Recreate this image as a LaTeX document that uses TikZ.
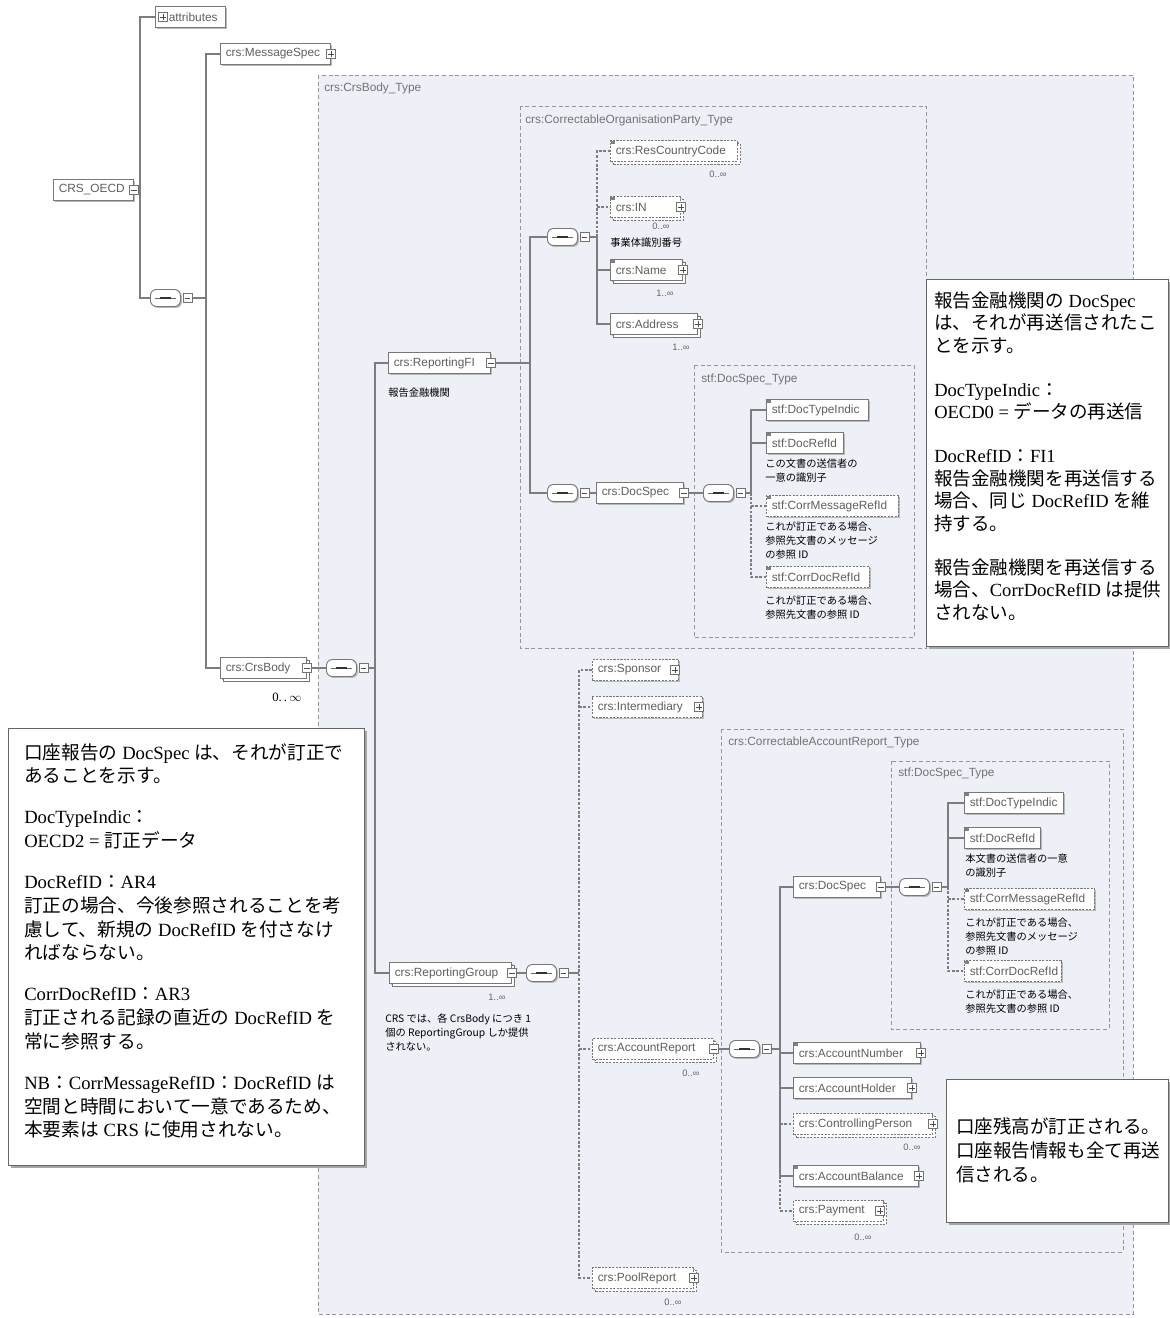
\documentclass[tikz,border=0pt]{standalone}
\usepackage{fontspec}
\setmainfont{Liberation Serif}
\newfontfamily\jp{Noto Sans CJK JP}
\newfontfamily\ui{Liberation Sans}
\usetikzlibrary{shadows}
\pgfdeclarelayer{bg}\pgfdeclarelayer{lines}
\pgfsetlayers{bg,lines,main}
\definecolor{ctfill}{RGB}{238,240,248}
\definecolor{ctline}{RGB}{150,150,158}
\definecolor{cn}{RGB}{125,125,125}
\definecolor{elb}{RGB}{120,120,120}
\definecolor{elt}{RGB}{95,95,95}
\newcommand\J[1]{{\jp #1}}
\tikzset{
 elbase/.style={draw=elb, fill=white, line width=0.7pt, inner xsep=4pt, inner ysep=0pt, align=left,
   minimum height=15.75pt, font=\ui\fontsize{8.9pt}{10pt}\selectfont, text=elt,
   drop shadow={shadow xshift=1.1pt,shadow yshift=-1.1pt,fill=black!28,opacity=1}},
 opt/.style={dash pattern=on 1.6pt off 1pt},
 stk/.style={copy shadow={shadow xshift=2.2pt,shadow yshift=-2.2pt}},
 expd/.style={draw=black!55, fill=white, line width=0.5pt, minimum size=6.75pt, inner sep=0pt},
 expl/.style={draw=black!70, line width=0.55pt},
 seqn/.style={draw=elb, fill=white, rounded corners=4.5pt, minimum width=22.5pt, minimum height=12.75pt,
   inner sep=0pt, line width=0.7pt, drop shadow={shadow xshift=1.1pt,shadow yshift=-1.1pt,fill=black!28,opacity=1}},
 conn/.style={draw=cn, line width=0.9pt},
 cdash/.style={conn, dash pattern=on 2pt off 1.3pt},
 ctr/.style={draw=ctline, fill=ctfill, line width=0.6pt, dash pattern=on 3pt off 2pt},
 ctlab/.style={font=\ui\fontsize{8.9pt}{10pt}\selectfont, text=black!55, anchor=west, inner sep=0pt},
 mult/.style={font=\ui\fontsize{7pt}{8pt}\selectfont, text=black!60, inner sep=0pt},
 note/.style={font=\jp\fontsize{7.7pt}{10.5pt}\selectfont, align=left, inner sep=0pt, anchor=north west},
 callout/.style={draw=black!60, fill=white, line width=0.8pt, inner sep=0pt, anchor=north west,
   drop shadow={shadow xshift=1.5pt,shadow yshift=-1.5pt,fill=black!35,opacity=1}},
 ctext/.style={align=left, inner sep=0pt, anchor=north west}
}
\newcommand\el[6]{\node[elbase,#2,anchor=west,text width={(#4-#3)*0.75pt-8pt}] (#1) at (#3,#5) {\mbox{#6}};}
\newcommand\xpm[3]{\node[expd] (#1) at (#2) {};\draw[expl] ([xshift=-2.1pt]#1.center) -- ([xshift=2.1pt]#1.center);\if p#3\draw[expl] ([yshift=-2.1pt]#1.center) -- ([yshift=2.1pt]#1.center);\fi}
\newcommand\sq[3]{\node[seqn,anchor=west] (#1) at (#2,#3) {};%
 \draw[black!60,line width=0.6pt] ([xshift=-8pt]#1.center) -- ([xshift=8pt]#1.center);%
 \fill[black!80] ([xshift=-4.3pt,yshift=-1pt]#1.center) rectangle ([xshift=4.3pt,yshift=1pt]#1.center);%
 \xpm{#1X}{[xshift=4.9pt]#1.east}{m}}
\newcommand\smk[1]{\fill[black!50] ([xshift=0.6pt,yshift=-0.6pt]#1.north west) rectangle ([xshift=3.6pt,yshift=-3.2pt]#1.north west);}
\begin{document}
\begin{tikzpicture}[x=0.75pt,y=-0.75pt]
\path[use as bounding box] (0,0) rectangle (1170,1318);
\begin{pgfonlayer}{bg}
\fill[white] (0,0) rectangle (1170,1318);
\draw[ctr] (318,75) rectangle (1133,1314);
\draw[ctr] (520,106) rectangle (926,648);
\draw[ctr] (694,365) rectangle (914,637);
\draw[ctr] (721,729) rectangle (1123,1252);
\draw[ctr] (891,761) rectangle (1109,1029);
\end{pgfonlayer}
% container labels
\node[ctlab] (lbBody) at (324,88) {crs:CrsBody\_Type};
\node[ctlab] (lbOrg) at (525,120) {crs:CorrectableOrganisationParty\_Type};
\node[ctlab] (lbDSa) at (701,379) {stf:DocSpec\_Type};
\node[ctlab] (lbAcc) at (728,742) {crs:CorrectableAccountReport\_Type};
\node[ctlab] (lbDSb) at (898,773) {stf:DocSpec\_Type};
% trunk coordinates
\coordinate (T1) at (140,0);
\coordinate (T2) at (206,0);
\coordinate (T3) at (375,0);
\coordinate (T4) at (530,0);
\coordinate (T5) at (597,0);
\coordinate (T6) at (751,0);
\coordinate (T7) at (579,0);
\coordinate (T8) at (780,0);
\coordinate (T9) at (948,0);
% top level
\el{attr}{}{155}{225}{17}{\hspace*{6pt}attributes}
\xpm{attrX}{[xshift=6pt]attr.west}{p}
\el{msg}{}{220}{330}{54}{crs:MessageSpec}
\xpm{msgX}{msg.east}{p}
\el{oecd}{}{53}{133}{190}{CRS\_OECD}
\xpm{oecdX}{oecd.east}{m}
\sq{seqO}{150}{298}
\el{crsbody}{stk}{220}{306}{668}{crs:CrsBody}
\xpm{crsbodyX}{crsbody.east}{m}
\node[inner sep=0pt,font=\fontsize{9.5pt}{11pt}\selectfont] (cbm) at (287,697) {0.\,.\,$\infty$};
\sq{seqI}{326}{668}
% reporting FI
\el{rfi}{}{388}{490}{363}{crs:ReportingFI}
\xpm{rfiX}{rfi.east}{m}
\node[note,anchor=west] (nRfi) at (388,393) {報告金融機関};
\sq{seqA}{547}{237}
\el{rcc}{opt,stk}{610}{737}{151}{crs:ResCountryCode}
\smk{rcc}
\node[mult] (mRcc) at (718,174) {0..∞};
\el{in}{opt,stk}{610}{680}{207}{crs:IN}
\xpm{inX}{in.east}{p}
\smk{in}
\node[mult] (mIn) at (661,226) {0..∞};
\node[note,anchor=west] (nIn) at (610,243) {事業体識別番号};
\el{name}{stk}{610}{682}{270}{crs:Name}
\xpm{nameX}{name.east}{p}
\smk{name}
\node[mult] (mName) at (665,293) {1..∞};
\el{addr}{stk}{610}{697}{324}{crs:Address}
\xpm{addrX}{addr.east}{p}
\node[mult] (mAddr) at (681,347) {1..∞};
\sq{seqB}{547}{493}
\el{docspec}{}{596}{683}{493}{crs:DocSpec}
\xpm{docspecX}{docspec.east}{m}
\sq{seqC}{703}{493}
\el{dti}{}{766}{868}{410}{stf:DocTypeIndic}
\smk{dti}
\el{dri}{}{766}{843}{443}{stf:DocRefId}
\smk{dri}
\node[note] (nDri) at (765,459) {この文書の送信者の\\一意の識別子};
\el{cmri}{opt}{766}{898}{506}{stf:CorrMessageRefId}
\smk{cmri}
\node[note] (nCmri) at (765,522) {これが訂正である場合、\\参照先文書のメッセージ\\の参照 ID};
\el{cdri}{opt}{766}{869}{577}{stf:CorrDocRefId}
\smk{cdri}
\node[note] (nCdri) at (765,596) {これが訂正である場合、\\参照先文書の参照 ID};
% reporting group
\el{rgrp}{stk}{389}{511}{973}{crs:ReportingGroup}
\xpm{rgrpX}{rgrp.east}{m}
\node[mult] (mRgrp) at (497,997) {1..∞};
\node[note] (nRgrp) at (385,1014) {CRS では、各 CrsBody につき 1\\個の ReportingGroup しか提供\\されない。};
\sq{seqD}{526}{973}
\el{spon}{opt}{592}{678}{670}{crs:Sponsor}
\xpm{sponX}{[xshift=-3pt]spon.east}{p}
\el{interm}{opt}{592}{702}{707}{crs:Intermediary}
\xpm{intermX}{[xshift=-3pt]interm.east}{p}
\el{accrep}{opt,stk}{592}{713}{1049}{crs:AccountReport}
\xpm{accrepX}{accrep.east}{m}
\node[mult] (mAccrep) at (691,1073) {0..∞};
\sq{seqE}{729}{1049}
\el{docspecb}{}{793}{880}{887}{crs:DocSpec}
\xpm{docspecbX}{docspecb.east}{m}
\sq{seqF}{899}{887}
\el{dtib}{}{964}{1063}{803}{stf:DocTypeIndic}
\smk{dtib}
\el{drib}{}{964}{1040}{838}{stf:DocRefId}
\smk{drib}
\node[note] (nDrib) at (965,854) {本文書の送信者の一意\\の識別子};
\el{cmrib}{opt}{964}{1094}{899}{stf:CorrMessageRefId}
\smk{cmrib}
\node[note] (nCmrib) at (965,918) {これが訂正である場合、\\参照先文書のメッセージ\\の参照 ID};
\el{cdrib}{opt}{964}{1061}{971}{stf:CorrDocRefId}
\smk{cdrib}
\node[note] (nCdrib) at (965,990) {これが訂正である場合、\\参照先文書の参照 ID};
\el{accnum}{}{793}{920}{1053}{crs:AccountNumber}
\xpm{accnumX}{accnum.east}{p}
\smk{accnum}
\el{acchold}{}{793}{911}{1088}{crs:AccountHolder}
\xpm{accholdX}{acchold.east}{p}
\el{ctrl}{opt,stk}{793}{932}{1124}{crs:ControllingPerson}
\xpm{ctrlX}{ctrl.east}{p}
\node[mult] (mCtrl) at (912,1147) {0..∞};
\el{accbal}{}{793}{918}{1176}{crs:AccountBalance}
\xpm{accbalX}{accbal.east}{p}
\smk{accbal}
\el{pay}{opt,stk}{793}{883}{1211}{crs:Payment}
\xpm{payX}{[xshift=-3pt]pay.east}{p}
\node[mult] (mPay) at (863,1237) {0..∞};
\el{pool}{opt,stk}{592}{693}{1278}{crs:PoolReport}
\xpm{poolX}{pool.east}{p}
\node[mult] (mPool) at (673,1302) {0..∞};
% connectors
\begin{pgfonlayer}{lines}
\draw[conn] (oecdX.east) -- (oecdX.east -| T1);
\draw[conn] (attr.west) -- (attr.west -| T1) -- (seqO.west -| T1) -- (seqO.west);
\draw[conn] (seqOX.east) -- (seqOX.east -| T2);
\draw[conn] (msg.west) -- (msg.west -| T2) -- (crsbody.west -| T2) -- (crsbody.west);
\draw[conn] (crsbodyX.east) -- (seqI.west);
\draw[conn] (seqIX.east) -- (seqIX.east -| T3);
\draw[conn] (rfi.west) -- (rfi.west -| T3) -- (rgrp.west -| T3) -- (rgrp.west);
\draw[conn] (rfiX.east) -- (rfiX.east -| T4);
\draw[conn] (seqA.west) -- (seqA.west -| T4) -- (seqB.west -| T4) -- (seqB.west);
\draw[conn] (seqAX.east) -- (seqAX.east -| T5) -- (addr.west -| T5) -- (addr.west);
\draw[conn] (name.west -| T5) -- (name.west);
\draw[cdash] (seqAX.east -| T5) -- (rcc.west -| T5) -- (rcc.west);
\draw[cdash] (in.west -| T5) -- (in.west);
\draw[conn] (seqBX.east) -- (docspec.west);
\draw[conn] (docspecX.east) -- (seqC.west);
\draw[conn] (seqCX.east) -- (seqCX.east -| T6) -- (dti.west -| T6) -- (dti.west);
\draw[conn] (dri.west -| T6) -- (dri.west);
\draw[cdash] (seqCX.east -| T6) -- (cdri.west -| T6) -- (cdri.west);
\draw[cdash] (cmri.west -| T6) -- (cmri.west);
\draw[conn] (rgrpX.east) -- (seqD.west);
\draw[conn] (seqDX.east) -- (seqDX.east -| T7);
\draw[cdash] (spon.west) -- (spon.west -| T7) -- (pool.west -| T7) -- (pool.west);
\draw[cdash] (interm.west -| T7) -- (interm.west);
\draw[cdash] (accrep.west -| T7) -- (accrep.west);
\draw[conn] (accrepX.east) -- (seqE.west);
\draw[conn] (seqEX.east) -- (seqEX.east -| T8);
\draw[conn] (docspecb.west) -- (docspecb.west -| T8) -- (accbal.west -| T8) -- (accbal.west);
\draw[conn] (accnum.west -| T8) -- (accnum.west);
\draw[conn] (acchold.west -| T8) -- (acchold.west);
\draw[cdash] (ctrl.west -| T8) -- (ctrl.west);
\draw[cdash] (accbal.west -| T8) -- (pay.west -| T8) -- (pay.west);
\draw[conn] (docspecbX.east) -- (seqF.west);
\draw[conn] (seqFX.east) -- (seqFX.east -| T9) -- (dtib.west -| T9) -- (dtib.west);
\draw[conn] (drib.west -| T9) -- (drib.west);
\draw[cdash] (seqFX.east -| T9) -- (cdrib.west -| T9) -- (cdrib.west);
\draw[cdash] (cmrib.west -| T9) -- (cmrib.west);
\end{pgfonlayer}
% callouts
\node[callout, minimum width={(1168-926)*0.75pt}, minimum height={(646-279)*0.75pt}] (fiBox) at (926,279) {};
\node[ctext, font=\fontsize{13.9pt}{16.9pt}\selectfont] (fiText) at (934,291.5) {%
\J{報告金融機関の} DocSpec\\
\J{は、それが再送信されたこ}\\
\J{とを示す。}\\[16pt]
DocTypeIndic\J{：}\\
OECD0 = \J{データの再送信}\\[16pt]
DocRefID\J{：}FI1\\
\J{報告金融機関を再送信する}\\
\J{場合、同じ} DocRefID \J{を維}\\
\J{持する。}\\[16pt]
\J{報告金融機関を再送信する}\\
\J{場合、}CorrDocRefID \J{は提供}\\
\J{されない。}};
\node[callout, minimum width={(364-8)*0.75pt}, minimum height={(1165-728)*0.75pt}] (arBox) at (8,728) {};
\node[ctext, font=\fontsize{14pt}{17.8pt}\selectfont] (arText) at (24,743) {%
\J{口座報告の} DocSpec \J{は、それが訂正で}\\
\J{あることを示す。}\\[13pt]
DocTypeIndic\J{：}\\
OECD2 = \J{訂正データ}\\[13pt]
DocRefID\J{：}AR4\\
\J{訂正の場合、今後参照されることを考}\\
\J{慮して、新規の} DocRefID \J{を付さなけ}\\
\J{ればならない。}\\[13pt]
CorrDocRefID\J{：}AR3\\
\J{訂正される記録の直近の} DocRefID \J{を}\\
\J{常に参照する。}\\[13pt]
NB\J{：}CorrMessageRefID\J{：}DocRefID \J{は}\\
\J{空間と時間において一意であるため、}\\
\J{本要素は} CRS \J{に使用されない。}};
\node[callout, minimum width={(1168-946)*0.75pt}, minimum height={(1222-1079)*0.75pt}] (balBox) at (946,1079) {};
\node[ctext, font=\fontsize{13.9pt}{18pt}\selectfont] (balText) at (956,1117.5) {%
\J{口座残高が訂正される。}\\
\J{口座報告情報も全て再送}\\
\J{信される。}};
\end{tikzpicture}
\end{document}
